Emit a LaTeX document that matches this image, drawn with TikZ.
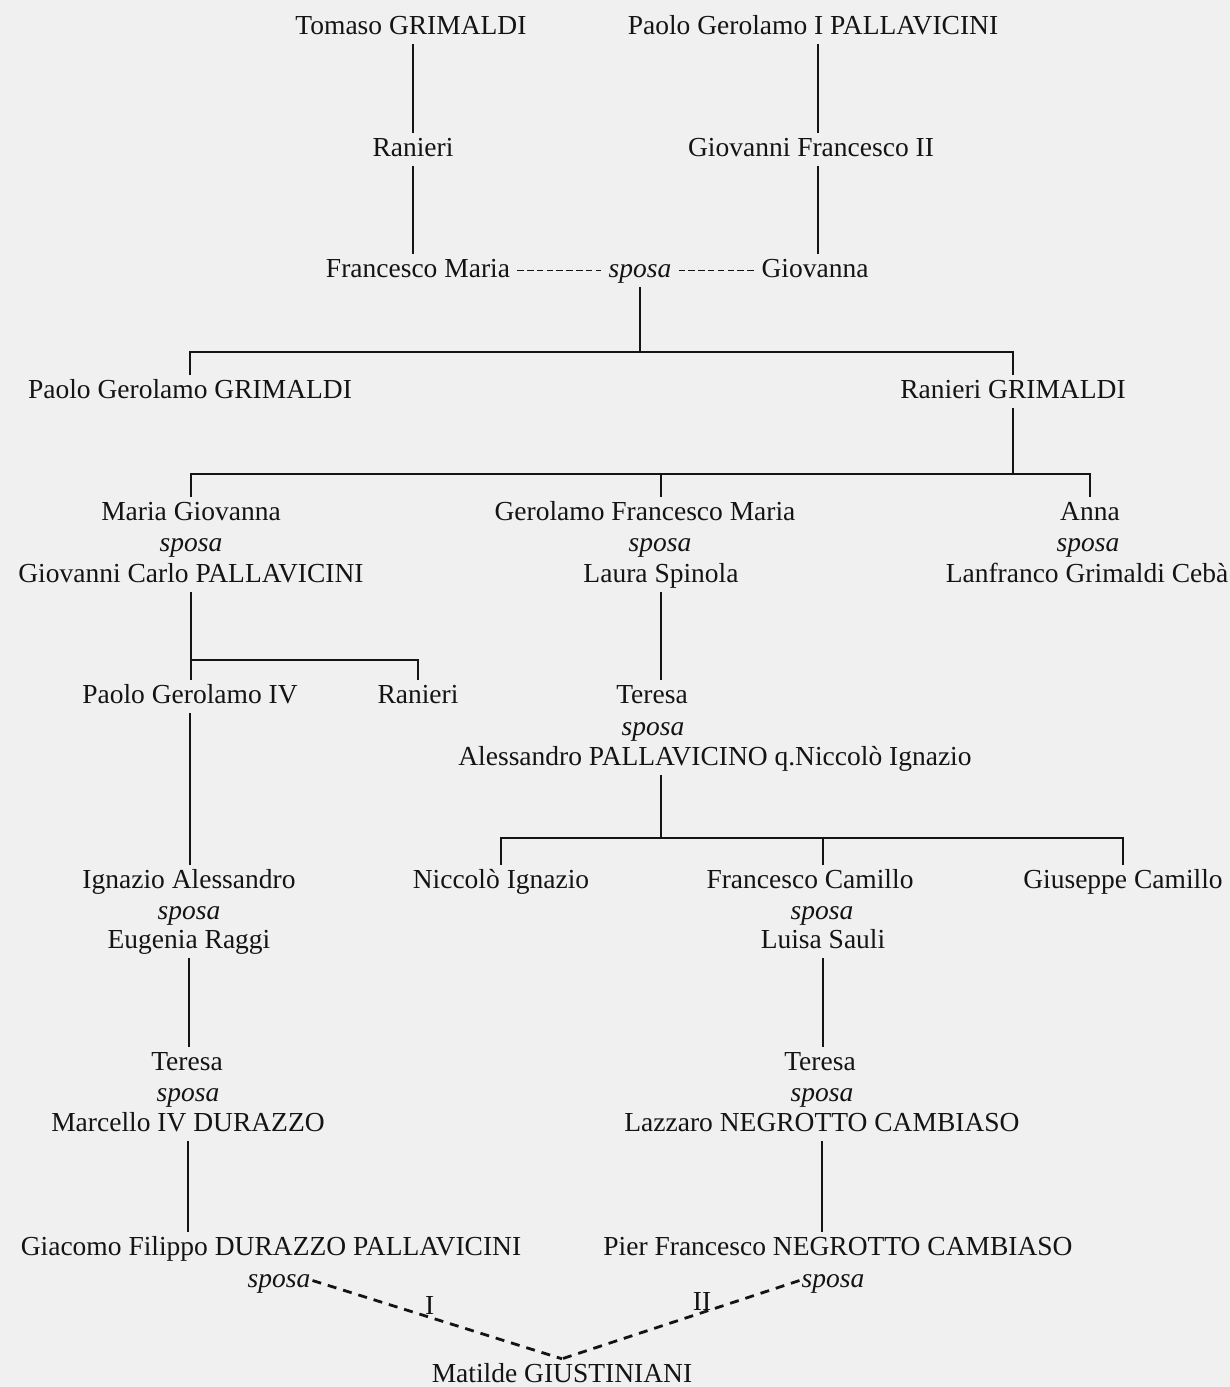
\documentclass[tikz,border=0pt]{standalone}
\usepackage{fontspec}
\setmainfont{Liberation Serif}
\definecolor{ink}{RGB}{20,20,20}
\definecolor{bg}{RGB}{240,240,240}
\begin{document}
\begin{tikzpicture}[x=1pt,y=-1pt,
  every node/.style={font=\fontsize{27.5}{32}\selectfont, text=ink},
  nm/.style={anchor=base, inner xsep=3pt, inner ysep=4pt, text height=19pt, text depth=6pt},
  sp/.style={nm, font=\fontsize{27.5}{32}\selectfont\itshape},
  ln/.style={line width=2.8pt, draw=ink},
  mar/.style={draw=ink, line width=1.8pt, dash pattern=on 6.5pt off 3.3pt},
  dl/.style={draw=ink, line width=2.8pt, dash pattern=on 9pt off 7pt},
  lbl/.style={anchor=south, inner sep=1pt, text depth=0pt}]
\fill[bg] (0,0) rectangle (1230,1387);
\useasboundingbox (0,0) rectangle (1230,1387);

% generation 1-3
\node[nm] (tomaso) at (411,34) {Tomaso GRIMALDI};
\node[nm] (ran1) at (413,156) {Ranieri};
\node[nm, inner xsep=7pt] (fm) at (418,277) {Francesco Maria};
\node[nm] (paolo1) at (813,34) {Paolo Gerolamo I PALLAVICINI};
\node[nm] (gf2) at (811,156) {Giovanni Francesco II};
\node[nm, inner xsep=7pt] (gv) at (815,277) {Giovanna};
\node[sp, inner xsep=7pt] (sp1) at (640,277) {sposa};

\draw[ln] ([xshift=2pt]tomaso.south) -- ([xshift=2pt]tomaso.south |- ran1.north);
\draw[ln] (ran1.south) -- (ran1.south |- fm.north);
\draw[ln] ([xshift=5pt]paolo1.south) -- ([xshift=5pt]paolo1.south |- gf2.north);
\draw[ln] ([xshift=5pt]paolo1.south |- gf2.south) -- ([xshift=5pt]paolo1.south |- gv.north);
\draw[mar] (fm.east) -- (sp1.west);
\draw[mar] (sp1.east) -- (gv.west);

% generation 4
\coordinate (b1) at (641,352);
\node[nm] (pgG) at (190,398) {Paolo Gerolamo GRIMALDI};
\node[nm] (rG) at (1013,398) {Ranieri GRIMALDI};
\draw[ln] (sp1.south) -- (sp1.south |- b1);
\draw[ln] (pgG.north) |- (rG.north |- b1) -- (rG.north);

% generation 5
\coordinate (b2) at (641,474);
\node[nm] (mg) at (191,520) {Maria Giovanna};
\node[sp] (mgs) at (191,551) {sposa};
\node[nm] (gcp) at (191,582) {Giovanni Carlo PALLAVICINI};
\node[nm] (gfm) at (645,520) {Gerolamo Francesco Maria};
\node[sp] (gfms) at (660,551) {sposa};
\node[nm] (laura) at (661,582) {Laura Spinola};
\node[nm] (anna) at (1090,520) {Anna};
\node[sp] (annas) at (1088,551) {sposa};
\node[nm] (lanf) at (1087,582) {Lanfranco Grimaldi Cebà};
\draw[ln] (rG.south) -- (rG.south |- b2);
\draw[ln] (mg.north) |- (anna.north |- b2) -- (anna.north);
\draw[ln] (laura.north |- b2) -- (laura.north |- gfm.north);

% generation 6
\coordinate (b3) at (300,660);
\node[nm] (pg4) at (190,703) {Paolo Gerolamo IV};
\node[nm] (ran2) at (418,703) {Ranieri};
\draw[ln] (gcp.south) -- (gcp.south |- pg4.north);
\draw[ln] (gcp.south |- b3) -| (ran2.north);
\node[nm] (ter1) at (652,703) {Teresa};
\node[sp] (ter1s) at (653,735) {sposa};
\node[nm] (aless) at (715,765) {Alessandro PALLAVICINO q.Niccolò Ignazio};
\draw[ln] (laura.south) -- (laura.south |- ter1.north);

% generation 7
\coordinate (b4) at (660,838);
\node[nm] (ign) at (189,888) {Ignazio Alessandro};
\node[sp] (igns) at (189,919) {sposa};
\node[nm] (eug) at (189,948) {Eugenia Raggi};
\draw[ln] (pg4.south) -- (pg4.south |- ign.north);
\node[nm] (nic) at (501,888) {Niccolò Ignazio};
\node[nm] (fc) at (810,888) {Francesco Camillo};
\node[sp] (fcs) at (822,919) {sposa};
\node[nm] (luisa) at (823,948) {Luisa Sauli};
\node[nm] (giu) at (1123,888) {Giuseppe Camillo};
\draw[ln] (laura.south |- aless.south) -- (laura.south |- b4);
\draw[ln] (nic.north) |- (giu.north |- b4) -- (giu.north);
\draw[ln] (luisa.north |- b4) -- (luisa.north |- fc.north);

% generation 8
\node[nm] (ter2) at (187,1070) {Teresa};
\node[sp] (ter2s) at (188,1101) {sposa};
\node[nm] (marc) at (188,1131) {Marcello IV DURAZZO};
\draw[ln] (eug.south) -- (eug.south |- ter2.north);
\node[nm] (ter3) at (820,1070) {Teresa};
\node[sp] (ter3s) at (822,1101) {sposa};
\node[nm] (lazz) at (822,1131) {Lazzaro NEGROTTO CAMBIASO};
\draw[ln] (luisa.south) -- (luisa.south |- ter3.north);

% generation 9
\node[nm] (giac) at (271,1255) {Giacomo Filippo DURAZZO PALLAVICINI};
\node[sp, inner xsep=2pt] (giacs) at (279,1287) {sposa};
\node[nm] (pier) at (838,1255) {Pier Francesco NEGROTTO CAMBIASO};
\node[sp, inner xsep=2pt] (piers) at (833,1287) {sposa};
\draw[ln] (marc.south) -- (marc.south |- giac.north);
\draw[ln] (lazz.south) -- (lazz.south |- pier.north);

% generation 10
\node[nm] (mat) at (562,1382) {Matilde GIUSTINIANI};
\draw[dl] (giacs.east) -- node[lbl, pos=0.47] {I} (mat.north);
\draw[dl] (piers.west) -- node[lbl, pos=0.41] {II} (mat.north);
\end{tikzpicture}
\end{document}
